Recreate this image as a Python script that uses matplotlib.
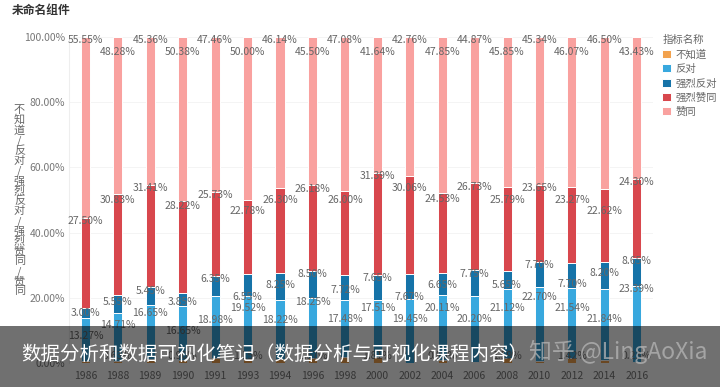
import matplotlib
matplotlib.use('Agg')
import matplotlib.pyplot as plt
import numpy as np
from matplotlib.patches import Rectangle

plt.rcParams['font.family'] = ['Noto Sans CJK SC', 'DejaVu Sans']

years = ['1986', '1988', '1989', '1990', '1991', '1993', '1994', '1996', '1998',
         '2000', '2002', '2004', '2006', '2008', '2010', '2012', '2014', '2016']
series_names = ['不知道', '反对', '强烈反对', '强烈赞同', '赞同']
dont_know = [0.68, 0.63, 1.13, 0.90, 1.48, 1.15, 1.09, 1.57, 1.72,
             1.81, 0.06, 0.86, 0.45, 1.59, 0.61, 1.42, 0.84, 0.23]
oppose = [13.27, 14.71, 16.65, 16.65, 18.98, 19.52, 18.22, 18.25, 17.48,
          17.51, 19.45, 20.11, 20.20, 21.12, 22.70, 21.54, 21.84, 23.39]
strong_oppose = [3.00, 5.55, 5.45, 3.85, 6.35, 6.55, 8.25, 8.50, 7.72,
                 7.65, 7.67, 6.65, 7.75, 5.65, 7.70, 7.70, 8.20, 8.65]
strong_agree = [27.50, 30.83, 31.41, 28.22, 25.73, 22.78, 26.30, 26.18, 26.00,
                31.39, 30.06, 24.53, 26.73, 25.79, 23.65, 23.27, 22.62, 24.30]
agree = [55.55, 48.28, 45.36, 50.38, 47.46, 50.00, 46.14, 45.50, 47.08,
         41.64, 42.76, 47.85, 44.87, 45.85, 45.34, 46.07, 46.50, 43.43]

colors = ['#F2A24E', '#38A8DE', '#1673A8', '#D8474D', '#F9A19F']
values = [dont_know, oppose, strong_oppose, strong_agree, agree]

fig = plt.figure(figsize=(7.2, 3.87), dpi=100)
ax = fig.add_axes([0.096, 0.062, 0.811, 0.842])

x = np.arange(len(years))
bottom = np.zeros(len(years))
labels = []  # (col, y, text)
for k, (name, vals, c) in enumerate(zip(series_names, values, colors)):
    vals = np.array(vals)
    ax.bar(x, vals, 0.28, bottom=bottom, color=c, edgecolor='white',
           linewidth=0.7, label=name, zorder=2)
    top = bottom + vals
    for i in range(len(years)):
        txt = '{:.2f}%'.format(vals[i])
        if k == 0:
            # overlapping bottom labels are hidden, so only every other one
            if i % 2 == 1:
                ax.text(i, 2.0, txt, ha='center', va='center', fontsize=7.5,
                        color='#777777', zorder=3)
        else:
            labels.append((i, round(top[i] - 1.0, 2), txt))
    bottom = top

# simple overlap shift (like echarts shiftY)
gap = 3.5
placed = []
for col, y, txt in sorted(labels, key=lambda t: (-t[1], t[0])):
    moved = True
    while moved:
        moved = False
        for pc, py in placed:
            if abs(pc - col) <= 1 and abs(py - y) < gap - 1e-6:
                y = py - gap
                moved = True
    placed.append((col, y))
    ax.text(col, y, txt, ha='center', va='center', fontsize=7.5,
            color='#666666', zorder=3)

ax.set_xlim(-0.5, len(years) - 0.5)
ax.set_ylim(0, 100)
ax.set_yticks([0, 20, 40, 60, 80, 100])
ax.set_yticklabels(['{:.2f}%'.format(v) for v in [0, 20, 40, 60, 80, 100]])
ax.set_xticks(x)
ax.set_xticklabels(years)
ax.tick_params(axis='both', length=0, labelsize=7.5, colors='#777777')
ax.tick_params(axis='x', pad=6)
ax.tick_params(axis='y', pad=3)
for s in ['top', 'right', 'bottom']:
    ax.spines[s].set_visible(False)
ax.spines['left'].set_color('#eeeeee')
ax.grid(axis='y', color='#f2f2f2', linewidth=0.6, zorder=0)
ax.set_axisbelow(True)

ylab = '\n'.join('不知道/反对/强烈反对/强烈赞同/赞同')
fig.text(0.027, 0.482, ylab, ha='center', va='center', fontsize=8,
         color='#666666', linespacing=0.98)

fig.text(0.017, 0.974, '未命名组件', ha='left', va='center', fontsize=8.5,
         fontweight='bold', color='#333333')

leg = ax.legend(loc='upper left', bbox_to_anchor=(1.005, 1.025), frameon=False,
                title='指标名称', fontsize=7.5, title_fontsize=7.5,
                handlelength=0.8, handleheight=0.8, handletextpad=0.5,
                labelspacing=0.4, borderaxespad=0.2, alignment='left')
for t in leg.get_texts():
    t.set_color('#666666')
leg.get_title().set_color('#666666')

# bottom caption band
fig.patches.append(Rectangle((0, 0), 1, 0.157, transform=fig.transFigure,
                             facecolor='black', alpha=0.56, zorder=10))
fig.text(0.03, 0.083, '数据分析和数据可视化笔记（数据分析与可视化课程内容）',
         ha='left', va='center', fontsize=14, color='white', zorder=11)
fig.text(0.735, 0.09, '知乎 @LingAoXia', ha='left', va='center', fontsize=16.5,
         color='#bbbbbb', alpha=0.7, zorder=11)

fig.savefig('out.png', dpi=100)
